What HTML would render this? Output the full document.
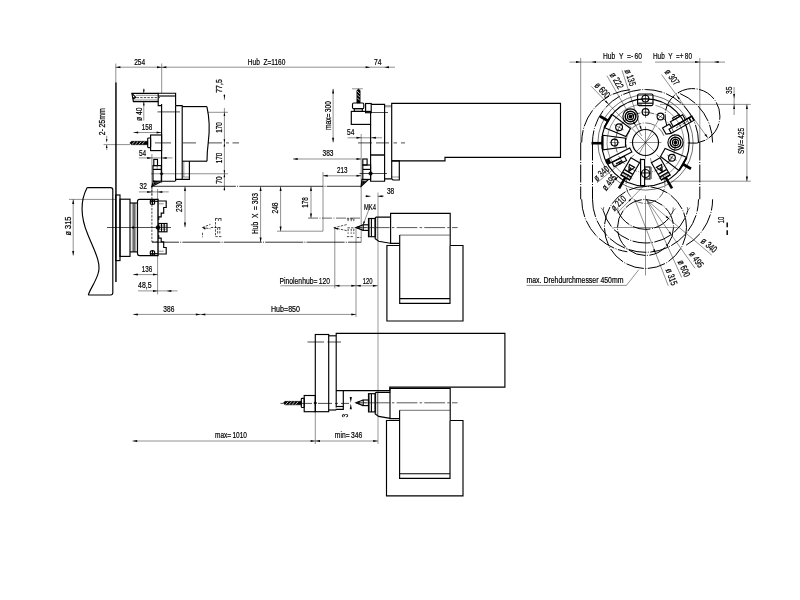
<!DOCTYPE html>
<html><head><meta charset="utf-8"><title>Arbeitsraum</title>
<style>
html,body{margin:0;padding:0;background:#fff;}
body{width:800px;height:600px;overflow:hidden;font-family:"Liberation Sans",sans-serif;}
svg{display:block;filter:grayscale(1);}
path,rect,circle{fill:none;stroke:#000;stroke-width:1;stroke-linecap:butt;stroke-linejoin:miter;}
.k{stroke-width:1.15;}
.kk{stroke-width:1.45;}
.k3{stroke-width:2.6;}
.t{stroke-width:.44;stroke:#000;}
.ct{stroke-width:.7;stroke:#000;}
.t2{stroke-width:.7;stroke:#333;}
.cl{stroke-width:.75;stroke:#222;stroke-dasharray:5.6 2.2 2.5 2.2 20.8 2.2 2.5 2.2 20.8 2.2 2.5 2.2 20.8 2.2 2.5 2.2 40;}
.g{stroke-width:.4;stroke:#000;}
.c{stroke-width:.6;stroke:#000;stroke-dasharray:10 1.5 1 1.5;}
.cc{stroke-width:1;stroke:#000;stroke-dasharray:18 1.5 1 1.5;}
.h{stroke-width:.7;stroke:#000;stroke-dasharray:2.4 1.2;}
.ar{fill:#000;stroke:none;}
.fl{fill:#000;stroke:#000;stroke-width:.5;}
.w{fill:#fff;}
text{font-family:"Liberation Sans",sans-serif;fill:#000;stroke:#000;stroke-width:.22px;}
</style></head><body>
<svg width="800" height="600" viewBox="0 0 800 600">
<rect x="0" y="0" width="800" height="600" style="fill:#fff;stroke:none"/>
<path class="k" d="M87.2 187.6L110.6 187.6Q112.8 187.6 112.8 189.8L112.8 292.8Q112.8 295 110.6 295L88.3 295"/>
<path class="k" d="M87.2 187.6C78 205 82.5 222 88 235C94 250 101 262 98.5 272C96.5 281 90 289 88.3 295"/>
<path class="t" d="M115.8 63.5L115.8 83"/>
<path class="kk" d="M115.95 82.5L115.95 281.9"/>
<rect class="k" x="115.7" y="195" width="4.3" height="65.6"/>
<rect class="k" x="120" y="199.2" width="10" height="57.2"/>
<path class="k" d="M130 203L137.5 203"/>
<path class="k" d="M130 251.9L137.5 251.9"/>
<path class="t" d="M132.3 203L132.3 251.9"/>
<path class="k" d="M134 203L134 251.9"/>
<path class="t" d="M135.7 203L135.7 251.9"/>
<path class="k" d="M139.5 199.4L158.1 199.4L158.1 255.6L139.5 255.6Q137.5 255.6 137.5 253.6L137.5 201.4Q137.5 199.4 139.5 199.4Z"/>
<path class="ct" d="M107 227.5L171 227.5"/>
<circle class="fl" cx="133.2" cy="227.5" r="0.9"/>
<path class="k" d="M158.1 201L166.2 201L166.2 207.5L163.7 207.5L163.7 213.1L161.2 213.1L161.2 216.9L158.7 216.9L158.7 220"/>
<path class="k" d="M150 201.3L158.1 201.3"/>
<rect class="k" x="150.3" y="199.9" width="4.3" height="4.3" rx="1"/>
<path class="k" d="M152.5 199L152.5 205"/>
<path class="t" d="M158.1 203.8L163.7 203.8"/>
<path class="k" d="M158.1 254L166.2 254L166.2 247.5L163.7 247.5L163.7 241.9L161.2 241.9L161.2 238.1L158.7 238.1L158.7 235"/>
<path class="k" d="M150 253.7L158.1 253.7"/>
<rect class="k" x="150.3" y="250.8" width="4.3" height="4.3" rx="1"/>
<path class="k" d="M152.5 256L152.5 250"/>
<path class="t" d="M158.1 251.2L163.7 251.2"/>
<circle class="fl" cx="157.9" cy="227.5" r="1.9"/>
<rect class="k" x="158.7" y="223.5" width="8.3" height="8.3"/>
<path class="k" d="M161.5 223.5L161.5 231.8"/>
<path class="k" d="M164.2 223.5L164.2 231.8"/>
<path class="t" d="M158.7 226L167 226"/>
<path class="t" d="M158.7 229.2L167 229.2"/>
<path class="t" d="M69 199.4L115 199.4"/>
<path class="t" d="M73.2 199.4L73.2 255.6"/>
<path class="ar" d="M73.2 199.4L74.2 204.1L72.2 204.1Z"/>
<path class="ar" d="M73.2 255.6L72.2 250.9L74.2 250.9Z"/>
<text transform="translate(67.5,226) rotate(-90)" text-anchor="middle" font-size="9.6" textLength="19" lengthAdjust="spacingAndGlyphs" dy="0.36em">ø 315</text>
<path d="M151.9 186.3H361.2" style="stroke:#000;stroke-width:.8;stroke-dasharray:84 1.2 1 1.2"/>
<path d="M152 242.2H361.2" style="stroke:#000;stroke-width:.8;stroke-dasharray:38 1.2 1 1.2;stroke-dashoffset:11"/>
<path class="h" d="M151.9 186.3L151.9 241.9"/>
<path class="h" d="M151.9 241.9L158.5 241.9"/>
<path class="t" d="M361.2 186.3L361.2 242.2"/>
<path class="t" d="M161.7 63.5L161.7 93"/>
<path class="k" d="M158.2 93.4L131.9 93.4L133.4 101.6L158.2 101.6"/>
<path class="k" d="M131.9 93.4L135.8 97.3L133 99"/>
<path class="t" d="M135.8 95.3L158.2 95.3"/>
<path class="t" d="M133.6 100L158.2 100"/>
<path class="h" d="M133 97.6L160 97.6"/>
<path class="k" d="M161.6 105.6L158.2 105.6L158.2 93.2L175.6 93.2L175.6 105.6"/>
<path class="k" d="M158.2 96L175.6 96"/>
<path class="k" d="M161.6 104L161.6 181.2L175.2 181.2"/>
<path class="k" d="M175.6 105.6L175.6 181.2"/>
<path class="k" d="M175.6 105.6L182.2 105.6L182.2 179.4L175.6 179.4"/>
<path class="k" d="M182.2 106.6L206.9 106.6"/>
<path class="k" d="M206.9 106.6C209.5 118 209.8 130 208.3 142C207.3 150 207 156 207 161.2"/>
<path class="k" d="M182.2 161.2L207 161.2"/>
<path class="k" d="M182.2 179.4L189.4 179.4L189.4 161.2"/>
<path class="t" d="M183.8 161.2L183.8 177"/>
<path class="t" d="M182.2 177L189.4 177"/>
<path class="ct" d="M157.5 111.9L180 111.9"/>
<path class="ct" d="M155 142.9L171 142.9"/>
<path class="ct" d="M183 142.9L196 142.9"/>
<path class="ct" d="M208 142.9L222 142.9"/>
<path class="ct" d="M226 142.9L229 142.9"/>
<path class="ct" d="M232.5 142.9L239 142.9"/>
<rect class="k" x="150.6" y="135" width="11" height="15.6"/>
<rect class="k" x="147.7" y="138" width="2.9" height="9.6" rx="0.8"/>
<path class="fl" d="M129.8 143L131.4 141.3L147.6 141.3L147.6 144.7L131.4 144.7Z"/>
<path d="M132 144.3L134.72 141.7" style="stroke:#fff;stroke-width:.75"/>
<path d="M135.3 144.3L138.02 141.7" style="stroke:#fff;stroke-width:.75"/>
<path d="M138.6 144.3L141.32 141.7" style="stroke:#fff;stroke-width:.75"/>
<path d="M141.9 144.3L144.62 141.7" style="stroke:#fff;stroke-width:.75"/>
<path class="t" d="M103.5 144.6L130 144.6"/>
<rect class="k" x="153.8" y="159.4" width="3.7" height="6.2"/>
<rect class="k" x="153" y="165.6" width="8.3" height="15.6"/>
<path class="k" d="M153 169.4L161.3 169.4"/>
<path class="t" d="M157.2 165.6L157.2 169.4"/>
<path class="fl" d="M161.6 172.2L163.1 173.75L161.6 175.3L160.1 173.75Z"/>
<path class="t" d="M151 173.75L228 173.75"/>
<path class="k" d="M153.4 181.2L151.9 186.4L160 182.2Z"/>
<path class="fl" d="M154.2 182.3L153.2 185L157.4 182.8Z"/>
<path class="t" d="M161.6 181.2L161.6 183.2"/>
<path class="t" d="M151.9 154L151.9 195"/>
<path class="t" d="M157.6 189L157.6 294.4"/>
<path class="t" d="M115.7 67.2L161.7 67.2"/>
<path class="ar" d="M115.7 67.2L120.4 66.2L120.4 68.2Z"/>
<path class="ar" d="M161.7 67.2L157 68.2L157 66.2Z"/>
<text transform="translate(139.7,61.3) rotate(0)" text-anchor="middle" font-size="9.6" textLength="11" lengthAdjust="spacingAndGlyphs" dy="0.36em">254</text>
<path class="t" d="M161.7 67.2L395 67.2"/>
<path class="ar" d="M161.7 67.2L166.4 66.2L166.4 68.2Z"/>
<path class="ar" d="M370.3 67.2L365.6 68.2L365.6 66.2Z"/>
<path class="ar" d="M384.3 67.2L389 66.2L389 68.2Z"/>
<text transform="translate(266.6,61.3) rotate(0)" text-anchor="middle" font-size="9.6" textLength="37.5" lengthAdjust="spacingAndGlyphs" dy="0.36em">Hub  Z=1160</text>
<text transform="translate(377.8,61.3) rotate(0)" text-anchor="middle" font-size="9.6" textLength="7.5" lengthAdjust="spacingAndGlyphs" dy="0.36em">74</text>
<path class="t" d="M143.8 88.5L143.8 93.4"/>
<path class="ar" d="M143.8 93.4L143 89.4L144.6 89.4Z"/>
<path class="t" d="M143.8 101.6L143.8 120.5"/>
<path class="ar" d="M143.8 101.6L144.6 105.6L143 105.6Z"/>
<text transform="translate(138.3,114.3) rotate(-90)" text-anchor="middle" font-size="9.6" textLength="13.5" lengthAdjust="spacingAndGlyphs" dy="0.36em">ø 40</text>
<path class="t" d="M133.5 132.5L161.3 132.5"/>
<path class="ar" d="M133.5 132.5L138.2 131.5L138.2 133.5Z"/>
<path class="ar" d="M161.3 132.5L156.6 133.5L156.6 131.5Z"/>
<text transform="translate(147,126.2) rotate(0)" text-anchor="middle" font-size="9.6" textLength="10.5" lengthAdjust="spacingAndGlyphs" dy="0.36em">158</text>
<path class="t" d="M138.8 157.9L172.5 157.9"/>
<path class="ar" d="M151.9 157.9L147.2 158.9L147.2 156.9Z"/>
<path class="ar" d="M161.9 157.9L166.6 156.9L166.6 158.9Z"/>
<text transform="translate(142.6,152.4) rotate(0)" text-anchor="middle" font-size="9.6" textLength="7.3" lengthAdjust="spacingAndGlyphs" dy="0.36em">54</text>
<path class="t" d="M138.8 191.9L168.8 191.9"/>
<path class="ar" d="M151.9 191.9L147.2 192.9L147.2 190.9Z"/>
<path class="ar" d="M157.6 191.9L162.3 190.9L162.3 192.9Z"/>
<text transform="translate(143.2,185.8) rotate(0)" text-anchor="middle" font-size="9.6" textLength="7.3" lengthAdjust="spacingAndGlyphs" dy="0.36em">32</text>
<path class="t" d="M106.7 135.8L106.7 140.8"/>
<path class="t" d="M106.7 145L106.7 150"/>
<path class="ar" d="M106.7 142.4L105.9 139.2L107.5 139.2Z"/>
<path class="ar" d="M106.7 144.8L107.5 148L105.9 148Z"/>
<text transform="translate(101.2,121.7) rotate(-90)" text-anchor="middle" font-size="9.6" textLength="27" lengthAdjust="spacingAndGlyphs" dy="0.36em">2- 25mm</text>
<path class="t" d="M207.5 112.3L228 112.3"/>
<path class="t" d="M224.4 94L224.4 100"/>
<path class="ar" d="M224.4 99L223.6 95L225.2 95Z"/>
<path class="t" d="M224.4 108L224.4 186.5"/>
<path class="ar" d="M224.4 112.3L225.2 115.9L223.6 115.9Z"/>
<path class="ar" d="M224.4 142.9L225.2 146.5L223.6 146.5Z"/>
<path class="ar" d="M224.4 173.75L225.2 177.35L223.6 177.35Z"/>
<path class="ar" d="M224.4 142.9L223.6 139.3L225.2 139.3Z"/>
<path class="ar" d="M224.4 173.75L223.6 170.15L225.2 170.15Z"/>
<path class="ar" d="M224.4 186.4L225.2 190L223.6 190Z"/>
<path class="t" d="M224.4 186.4L224.4 191"/>
<text transform="translate(219,86) rotate(-90)" text-anchor="middle" font-size="9.6" textLength="13.5" lengthAdjust="spacingAndGlyphs" dy="0.36em">77,5</text>
<text transform="translate(219,127.5) rotate(-90)" text-anchor="middle" font-size="9.6" textLength="10.5" lengthAdjust="spacingAndGlyphs" dy="0.36em">170</text>
<text transform="translate(219,158) rotate(-90)" text-anchor="middle" font-size="9.6" textLength="10.5" lengthAdjust="spacingAndGlyphs" dy="0.36em">170</text>
<text transform="translate(219,180) rotate(-90)" text-anchor="middle" font-size="9.6" textLength="7.3" lengthAdjust="spacingAndGlyphs" dy="0.36em">70</text>
<path class="t" d="M185 186.4L185 227.2"/>
<path class="ar" d="M185 186.4L186 191.1L184 191.1Z"/>
<path class="ar" d="M185 227.2L184 222.5L186 222.5Z"/>
<text transform="translate(179,206.5) rotate(-90)" text-anchor="middle" font-size="9.6" textLength="11" lengthAdjust="spacingAndGlyphs" dy="0.36em">230</text>
<path class="t" d="M133.1 274.6L157.7 274.6"/>
<path class="ar" d="M133.1 274.6L137.8 273.6L137.8 275.6Z"/>
<path class="ar" d="M157.7 274.6L153 275.6L153 273.6Z"/>
<text transform="translate(146.9,268.8) rotate(0)" text-anchor="middle" font-size="9.6" textLength="10.5" lengthAdjust="spacingAndGlyphs" dy="0.36em">136</text>
<path class="t" d="M138 290.9L177.5 290.9"/>
<path class="ar" d="M157.7 290.9L153 291.9L153 289.9Z"/>
<path class="ar" d="M166.6 290.9L171.3 289.9L171.3 291.9Z"/>
<text transform="translate(144.8,284.8) rotate(0)" text-anchor="middle" font-size="9.6" textLength="13.5" lengthAdjust="spacingAndGlyphs" dy="0.36em">48,5</text>
<path class="t" d="M133.1 314.4L356 314.4"/>
<path class="ar" d="M133.1 314.4L137.8 313.4L137.8 315.4Z"/>
<path class="ar" d="M200.6 314.4L195.9 315.4L195.9 313.4Z"/>
<path class="ar" d="M200.6 314.4L205.3 313.4L205.3 315.4Z"/>
<path class="ar" d="M356 314.4L351.3 315.4L351.3 313.4Z"/>
<text transform="translate(168.8,308.5) rotate(0)" text-anchor="middle" font-size="9.6" textLength="11" lengthAdjust="spacingAndGlyphs" dy="0.36em">386</text>
<text transform="translate(285.5,308.3) rotate(0)" text-anchor="middle" font-size="9.6" textLength="29" lengthAdjust="spacingAndGlyphs" dy="0.36em">Hub=850</text>
<path class="t" d="M280.4 285.8L377.6 285.8"/>
<path class="ar" d="M334.8 285.8L339.5 284.8L339.5 286.8Z"/>
<path class="ar" d="M356 285.8L351.3 286.8L351.3 284.8Z"/>
<path class="ar" d="M356 285.8L360.7 284.8L360.7 286.8Z"/>
<path class="ar" d="M377.6 285.8L372.9 286.8L372.9 284.8Z"/>
<text transform="translate(304.8,280.3) rotate(0)" text-anchor="middle" font-size="9.6" textLength="50.5" lengthAdjust="spacingAndGlyphs" dy="0.36em">Pinolenhub= 120</text>
<text transform="translate(367.7,280.3) rotate(0)" text-anchor="middle" font-size="9.6" textLength="9.8" lengthAdjust="spacingAndGlyphs" dy="0.36em">120</text>
<path class="t" d="M334.8 227.8L334.8 288.5"/>
<path class="t" d="M356 227.8L356 317"/>
<path class="t" d="M260.6 186.4L260.6 242.2"/>
<path class="ar" d="M260.6 186.4L261.6 191.1L259.6 191.1Z"/>
<path class="ar" d="M260.6 242.2L259.6 237.5L261.6 237.5Z"/>
<text transform="translate(255,213.5) rotate(-90)" text-anchor="middle" font-size="9.6" textLength="41" lengthAdjust="spacingAndGlyphs" dy="0.36em">Hub  X  = 303</text>
<path class="t" d="M280.6 186.4L280.6 231.2"/>
<path class="ar" d="M280.6 186.4L281.6 191.1L279.6 191.1Z"/>
<path class="ar" d="M280.6 231.2L279.6 226.5L281.6 226.5Z"/>
<text transform="translate(274.6,208) rotate(-90)" text-anchor="middle" font-size="9.6" textLength="11" lengthAdjust="spacingAndGlyphs" dy="0.36em">248</text>
<path class="t" d="M277 231.2L323 231.2"/>
<path class="t" d="M311 186.4L311 218.1"/>
<path class="ar" d="M311 186.4L312 191.1L310 191.1Z"/>
<path class="ar" d="M311 218.1L310 213.4L312 213.4Z"/>
<text transform="translate(305,202.4) rotate(-90)" text-anchor="middle" font-size="9.6" textLength="10.5" lengthAdjust="spacingAndGlyphs" dy="0.36em">178</text>
<path class="c" d="M308 218.1L361 218.1"/>
<path class="t" d="M323 172L323 231.2"/>
<path class="t" d="M293 159L361.2 159"/>
<path class="ar" d="M293 159L297.7 158L297.7 160Z"/>
<path class="ar" d="M361.2 159L356.5 160L356.5 158Z"/>
<text transform="translate(328,153) rotate(0)" text-anchor="middle" font-size="9.6" textLength="11" lengthAdjust="spacingAndGlyphs" dy="0.36em">383</text>
<path class="t" d="M323 175.8L361.2 175.8"/>
<path class="ar" d="M323 175.8L327.7 174.8L327.7 176.8Z"/>
<path class="ar" d="M361.2 175.8L356.5 176.8L356.5 174.8Z"/>
<text transform="translate(342.3,169.8) rotate(0)" text-anchor="middle" font-size="9.6" textLength="10.5" lengthAdjust="spacingAndGlyphs" dy="0.36em">213</text>
<path class="h" d="M202.5 227.5L210.5 224.3M202.5 227.5L210.5 228.8M202.5 232.8V237.3"/>
<path class="h" d="M215.3 218.5H221.5M215.5 218.5V236.6H221.5M217.6 227.5V234.3M219.8 227.5V234.3M210.8 227.5H220.8M218.4 218.5V221.7M221 218.5V221.7"/>
<path class="ar" d="M202.3 227.5L205.83 227.85L205.08 229.7Z"/>
<path class="h" d="M333.8 227.8L347.5 224.4M333.8 227.8L347.5 230.8"/>
<path class="h" d="M346.9 218.8H354.4M348.1 218.8V222M351.2 218.8V222M353.8 218.8V222M347.5 227.8H355M348.1 228.8V233.8M351.2 228.8V233.8M353.8 228.8V233.8M346.9 236.6H353.8M356.9 237.5H361.2"/>
<path class="ar" d="M333.6 227.8L338.21 227.92L337.72 229.86Z"/>
<path class="t" d="M352 88.8L362.8 88.8"/>
<path class="fl" d="M358.5 88.9L356.8 90.5L356.8 103L360.2 103L360.2 90.5Z"/>
<path d="M357.2 91.1L359.8 93.82" style="stroke:#fff;stroke-width:.75"/>
<path d="M357.2 94.4L359.8 97.12" style="stroke:#fff;stroke-width:.75"/>
<path d="M357.2 97.7L359.8 100.42" style="stroke:#fff;stroke-width:.75"/>
<rect class="k" x="352.5" y="103" width="11.3" height="5.6" rx="1.2"/>
<rect class="k" x="354.3" y="108.6" width="8" height="2.8"/>
<rect class="k" x="351.3" y="111.4" width="19.3" height="13"/>
<rect class="k" x="365.6" y="103.5" width="5.6" height="9.2"/>
<path class="k" d="M370.6 124.4L370.6 181.2L384.6 181.2L384.6 104.4L371.2 104.4"/>
<path class="kk" d="M370.6 155L384.6 155"/>
<path class="ct" d="M370.6 112.5L388 112.5"/>
<path class="t" d="M384.6 105.7L391.7 105.7"/>
<path class="t" d="M384.6 106.8L391.7 106.8"/>
<path class="k" d="M391.7 178.8L391.7 103.4L560.5 103.4L560.5 157.4L445 157.4L445 160.9L391.7 160.9"/>
<path class="k" d="M391.7 160.8L399.3 160.8L399.3 180L393 180L391.7 178.8L384.6 178.8"/>
<path class="t" d="M391.7 177L399.3 177"/>
<path class="ct" d="M358 142.9H372M376 142.9H389M393.5 142.9H397M401 142.9H405"/>
<rect class="k" x="362.8" y="159" width="4.3" height="6"/>
<rect class="k" x="362.8" y="165" width="7.8" height="14.4"/>
<path class="k" d="M362.8 169.4L370.6 169.4"/>
<circle class="fl" cx="370.6" cy="173.5" r="1.8"/>
<path class="ct" d="M359.5 173.5L387 173.5"/>
<path class="k" d="M362 179.4L361.2 186.3L368 180Z"/>
<path class="fl" d="M362.6 181L362 185L365.8 181.4Z"/>
<path class="t" d="M361.2 134L361.2 186.3"/>
<path class="t" d="M333.1 88.8L333.1 142.5"/>
<path class="ar" d="M333.1 88.8L334.1 93.5L332.1 93.5Z"/>
<path class="ar" d="M333.1 142.5L332.1 137.8L334.1 137.8Z"/>
<text transform="translate(327.3,115.5) rotate(-90)" text-anchor="middle" font-size="9.6" textLength="29" lengthAdjust="spacingAndGlyphs" dy="0.36em">max= 300</text>
<path class="t" d="M347.5 137.8L382 137.8"/>
<path class="ar" d="M361.2 137.8L356.5 138.8L356.5 136.8Z"/>
<path class="ar" d="M371.2 137.8L375.9 136.8L375.9 138.8Z"/>
<text transform="translate(350.7,131.3) rotate(0)" text-anchor="middle" font-size="9.6" textLength="7.3" lengthAdjust="spacingAndGlyphs" dy="0.36em">54</text>
<path class="t" d="M365.2 196.2L370.6 196.2"/>
<path class="ar" d="M370.6 196.2L365.9 197.2L365.9 195.2Z"/>
<path class="t" d="M377.8 196.2L384 196.2"/>
<path class="ar" d="M377.8 196.2L382.5 195.2L382.5 197.2Z"/>
<text transform="translate(390.6,190.2) rotate(0)" text-anchor="middle" font-size="9.6" textLength="7.3" lengthAdjust="spacingAndGlyphs" dy="0.36em">38</text>
<path class="g" d="M378 192.5L378 444"/>
<text transform="translate(370,206.2) rotate(0)" text-anchor="middle" font-size="9.6" textLength="12" lengthAdjust="spacingAndGlyphs" dy="0.36em">MK4</text>
<path class="t" d="M368.9 209.4L363.2 224.6"/>
<path class="ar" d="M363 225.2L363.56 221.14L365.24 221.77Z"/>
<path class="k" d="M363.2 224.8L356 227.6L363.2 230.4"/>
<path class="fl" d="M356 227.6L359.4 226.3L359.4 228.9Z"/>
<rect class="k" x="363.2" y="224.8" width="5.3" height="5.6"/>
<path class="t" d="M359.4 227.6L368.5 227.6"/>
<rect class="k" x="368.5" y="218.5" width="6.7" height="18.2"/>
<path class="k" d="M371.4 218.5L371.4 236.7"/>
<path class="t2" d="M369.4 218.5L369.4 236.7"/>
<path class="k" d="M390.2 217.1L376.2 217.1L375.2 218.1L375.2 238.8L378.7 241.2L390.2 243.2"/>
<path class="t2" d="M377.3 217.4L377.3 240"/>
<path class="k" d="M399.7 243.4L390.6 243.4L390.6 213.4L450.2 213.4L450.2 245.5"/>
<path class="t2" d="M399.7 235.1L450 235.1"/>
<path class="k" d="M399.7 235.1L399.7 303.3L450 303.3L450 245.5"/>
<path class="k" d="M399.7 298.6L450 298.6"/>
<path class="k" d="M399.7 245.5L386.9 245.5L386.9 321L463 321L463 245.5L450.2 245.5"/>
<path class="cl" d="M457.6 227.6H357"/>
<rect class="k" x="315.3" y="334.5" width="13.4" height="77.2"/>
<path class="k" d="M328.7 335.8L336.2 335.8"/>
<path class="k" d="M328.7 410L336.2 410"/>
<path class="k" d="M336.2 407.5L336.2 333.4L504.9 333.4L504.9 387.1L389.8 387.1L389.8 390.6L336.2 390.6"/>
<path class="k" d="M336.2 390.5L343.3 390.5L343.3 409.3L336.2 409.3L336.2 410"/>
<path class="k" d="M336.2 406.5L343.3 406.5"/>
<path class="ct" d="M307.5 342H324M327.5 342H341"/>
<rect class="k" x="304.2" y="395.5" width="11.1" height="16.2"/>
<rect class="k" x="301.3" y="398.3" width="2.9" height="9.2" rx="0.8"/>
<path class="fl" d="M283.3 403.1L284.9 401.35L301.3 401.35L301.3 404.85L284.9 404.85Z"/>
<path d="M285.5 404.45L288.3 401.75" style="stroke:#fff;stroke-width:.75"/>
<path d="M288.8 404.45L291.6 401.75" style="stroke:#fff;stroke-width:.75"/>
<path d="M292.1 404.45L294.9 401.75" style="stroke:#fff;stroke-width:.75"/>
<path d="M295.4 404.45L298.2 401.75" style="stroke:#fff;stroke-width:.75"/>
<path class="fl" d="M315.3 401.5L316.8 403L315.3 404.5L313.8 403Z"/>
<path class="ct" d="M280.5 403.4H283M302 403.4H312M318 403.4H332M335 403.4H338M341 403.4H349"/>
<path class="t" d="M315.3 411.7L315.3 444"/>
<path class="ar" d="M350.8 402.8L349.7 397L351.9 397Z"/>
<path class="ar" d="M350.8 403.4L351.9 409.2L349.7 409.2Z"/>
<text transform="translate(344.6,415.6) rotate(-90)" text-anchor="middle" font-size="9.6" textLength="3.6" lengthAdjust="spacingAndGlyphs" dy="0.36em">3</text>
<path class="k" d="M363.2 400L356 402.8L363.2 405.6"/>
<path class="fl" d="M356 402.8L359.4 401.5L359.4 404.1Z"/>
<rect class="k" x="363.2" y="400" width="5.3" height="5.6"/>
<path class="t" d="M359.4 402.8L368.5 402.8"/>
<rect class="k" x="368.5" y="393.7" width="6.7" height="18.2"/>
<path class="k" d="M371.4 393.7L371.4 411.9"/>
<path class="t2" d="M369.4 393.7L369.4 411.9"/>
<path class="k" d="M390.2 392.3L376.2 392.3L375.2 393.3L375.2 414L378.7 416.4L390.2 418.4"/>
<path class="t2" d="M377.3 392.6L377.3 415.2"/>
<path class="k" d="M399.6 418.6L390 418.6L390 388.4L450.2 388.4L450.2 420.5"/>
<path class="t2" d="M399.6 410.3L450 410.3"/>
<path class="k" d="M399.6 410.3L399.6 478.4L450 478.4L450 420.5"/>
<path class="k" d="M399.6 473.7L450 473.7"/>
<path class="k" d="M399.6 420.5L386.5 420.5L386.5 495.9L463 495.9L463 420.5L450.2 420.5"/>
<path class="cl" d="M457.6 402.8H357"/>
<path class="t" d="M132.5 441L377.9 441"/>
<path class="ar" d="M132.5 441L137.2 440L137.2 442Z"/>
<path class="ar" d="M315.3 441L310.6 442L310.6 440Z"/>
<path class="ar" d="M315.3 441L320 440L320 442Z"/>
<path class="ar" d="M377.9 441L373.2 442L373.2 440Z"/>
<text transform="translate(231,434.3) rotate(0)" text-anchor="middle" font-size="9.6" textLength="32" lengthAdjust="spacingAndGlyphs" dy="0.36em">max= 1010</text>
<text transform="translate(348.5,434.3) rotate(0)" text-anchor="middle" font-size="9.6" textLength="27.5" lengthAdjust="spacingAndGlyphs" dy="0.36em">min= 346</text>
<circle class="k" cx="645.5" cy="142.5" r="13"/>
<path class="t" d="M629.5 142.5L661.5 142.5"/>
<path class="t" d="M645.5 126.5L645.5 158.5"/>
<path class="t" d="M654.69 133.31L636.31 151.69"/>
<path class="t" d="M652 131.24L639 153.76"/>
<path class="t" d="M636.31 133.31L654.69 151.69"/>
<circle class="k" cx="645.5" cy="142.5" r="43.7"/>
<circle class="t2" cx="645.5" cy="142.5" r="47.6"/>
<path class="t" d="M642.14 104.15A38.5 38.5 0 0 0 632.33 178.68"/>
<path class="t" d="M658.67 178.68A38.5 38.5 0 0 0 655.46 105.31"/>
<circle class="c" cx="645.5" cy="142.5" r="30"/>
<path class="c" d="M663.92 135.8A19.6 19.6 0 0 0 627.08 149.2"/>
<path class="cc" d="M698.5 142.5A53 53 0 0 0 592.5 142.5"/>
<path class="cc" d="M630.08 89.7A53 53 0 0 0 581.7 142.5"/>
<path class="cc" d="M712.6 142.5A53 53 0 0 0 677.73 92.7"/>
<path class="t" d="M580.7 58L580.7 142.5"/>
<path class="cc" d="M580.7 142.5L580.7 199.3"/>
<path class="cc" d="M592.5 142.5L592.5 199.3"/>
<path class="t" d="M699.8 58L699.8 142.5"/>
<path class="cc" d="M699.8 142.5L699.8 199.3"/>
<path class="cc" d="M581.7 199.3A53 53 0 0 0 627.32 251.78"/>
<path class="cc" d="M592.5 199.3A53 53 0 0 0 698.5 199.3"/>
<path class="cc" d="M686.1 245.2A53 53 0 0 0 712.6 199.3"/>
<path class="cc" d="M603.29 210.61A43.7 43.7 0 0 0 687.71 210.61"/>
<path class="cc" d="M617.88 211.02A30 30 0 0 0 673.12 211.02"/>
<circle class="cc" cx="645.5" cy="227.5" r="28"/>
<circle class="cc" cx="645.5" cy="227.5" r="41"/>
<path class="t" d="M613.5 227.5L677.5 227.5"/>
<path class="t" d="M645.5 195.3L645.5 275.5"/>
<path class="c" d="M628.61 174.25A19.5 19.5 0 1 0 662.39 174.25"/>
<path class="cc" d="M687.74 142.98A27.4 27.4 0 1 0 666.75 125.37"/>
<circle class="k" cx="675.5" cy="142.5" r="7.6"/>
<circle class="kk" cx="675.5" cy="142.5" r="5.3"/>
<circle class="k" cx="675.5" cy="142.5" r="3.1"/>
<circle class="fl" cx="675.5" cy="142.5" r="1.7"/>
<circle class="k" cx="630.5" cy="116.52" r="7.6"/>
<circle class="kk" cx="630.5" cy="116.52" r="5.3"/>
<circle class="k" cx="630.5" cy="116.52" r="3.1"/>
<circle class="fl" cx="630.5" cy="116.52" r="1.7"/>
<circle class="k" cx="660.5" cy="116.52" r="3.4"/>
<path class="t" d="M657.5 119.52L663.5 113.52"/>
<path class="t" d="M652 131.24L659 119.12"/>
<rect class="k" x="637.6" y="94" width="15.4" height="11.6" rx="1.5"/>
<path class="k" d="M637.6 103.2L653 103.2"/>
<circle class="k" cx="645.4" cy="98.6" r="3.4"/>
<path class="t" d="M640.9 98.6L649.9 98.6"/>
<path class="t" d="M645.4 94.1L645.4 103.1"/>
<circle class="k" cx="645.6" cy="112" r="3.4"/>
<path class="t" d="M641.1 112L650.1 112"/>
<path class="t" d="M645.6 107.5L645.6 116.5"/>
<path class="t" d="M645.5 94L645.5 118"/>
<path class="k" d="M630.48 128.52L612.23 114.52L604.63 127.68L625.88 136.48Z"/>
<circle class="k" cx="619.09" cy="127.25" r="3.4"/>
<path class="t" d="M623.85 130L614.32 124.5"/>
<path class="t" d="M621.59 122.92L616.59 131.58"/>
<path class="kk" d="M611.9 114.1L604.1 127.6"/>
<path class="k3" d="M607.83 120.75L600.03 116.25"/>
<path class="k" d="M660.52 156.48L678.77 170.48L686.37 157.32L665.12 148.52Z"/>
<circle class="k" cx="671.91" cy="157.75" r="3.4"/>
<path class="t" d="M667.15 155L676.68 160.5"/>
<path class="t" d="M669.41 162.08L674.41 153.42"/>
<path class="kk" d="M679.1 170.9L686.9 157.4"/>
<path class="k3" d="M683.17 164.25L690.97 168.75"/>
<path class="k" d="M603 135.3L625.5 138.3L625.5 146.8L603 149.8Z"/>
<circle class="k" cx="614.5" cy="142.5" r="3.4"/>
<path class="t" d="M609.5 142.5L619.5 142.5"/>
<path class="t" d="M614.5 137.5L614.5 147.5"/>
<path class="kk" d="M602.3 136L602.3 149"/>
<path class="k3" d="M591.5 143.2L602 143.2"/>
<path class="k" d="M671.38 133.33L694.25 120.13L691.85 115.97L668.98 129.17Z"/>
<path class="k" d="M673.31 126.67L685.44 119.67L682.59 114.74L670.46 121.74Z"/>
<path class="k" d="M673.49 119.99L679.99 116.24L678.99 114.5L672.49 118.25Z"/>
<path class="k" d="M671.58 127.67L669.48 124.04"/>
<path class="k" d="M671.38 133.33L666.05 134.1L662.55 128.04L669.48 124.04"/>
<path class="kk" d="M691.3 121.83L688.9 117.67"/>
<path class="h" d="M676.24 127.75L687.5 121.25"/>
<path class="kk" d="M676.88 124.85L691.17 116.6"/>
<path class="k" d="M629.75 147.94L606.14 159.97L608.23 164.07L631.84 152.04Z"/>
<path class="k" d="M624.41 156.17L611.93 162.52L614.11 166.8L626.58 160.44Z"/>
<path class="kk" d="M622.2 160.66L615.97 163.83"/>
<path class="k3" d="M607.92 159.06L610.01 163.16"/>
<path class="k3" d="M608.97 161.11L605.85 162.7"/>
<path class="k" d="M630.92 157.75L620.92 175.07L629.58 180.07L639.58 162.75Z"/>
<path class="kk" d="M624.17 169.44L632.83 174.44"/>
<path class="kk" d="M622.67 172.04L631.33 177.04"/>
<path class="kk" d="M620.59 174.65L630.11 180.15"/>
<path class="k" d="M634.6 167.38L628.75 171.51L629.4 164.38Z"/>
<path class="kk" d="M631 167.61L629.5 170.21"/>
<path class="k3" d="M625.25 177.57L619 188.4"/>
<path class="t" d="M630.92 157.75L634.47 154.61"/>
<path class="t" d="M639.58 162.75L640.53 158.11"/>
<path class="k" d="M651.42 162.75L661.42 180.07L670.08 175.07L660.08 157.75Z"/>
<path class="kk" d="M658.17 174.44L666.83 169.44"/>
<path class="kk" d="M659.67 177.04L668.33 172.04"/>
<path class="kk" d="M660.89 180.15L670.41 174.65"/>
<path class="k" d="M656.4 167.38L662.25 171.51L661.6 164.38Z"/>
<path class="kk" d="M660 167.61L661.5 170.21"/>
<path class="k3" d="M665.75 177.57L672 188.4"/>
<path class="t" d="M651.42 162.75L650.47 158.11"/>
<path class="t" d="M660.08 157.75L656.53 154.61"/>
<rect class="k" x="640.6" y="159.5" width="4" height="26.1"/>
<rect class="k" x="644.6" y="167" width="5.4" height="12"/>
<circle class="k" cx="645.5" cy="173.5" r="4"/>
<path class="t" d="M640 173.5L651 173.5"/>
<path class="t" d="M645.5 168L645.5 179"/>
<path class="t" d="M651.5 167L651.5 179"/>
<path class="t" d="M569.4 62.1L642 62.1"/>
<path class="ar" d="M580.7 62.1L576 63.1L576 61.1Z"/>
<path class="ar" d="M591.3 62.1L596 61.1L596 63.1Z"/>
<text transform="translate(622.5,55.6) rotate(0)" text-anchor="middle" font-size="9.6" textLength="39" lengthAdjust="spacingAndGlyphs" dy="0.36em">Hub  Y  =- 60</text>
<path class="t" d="M655 62.1L725 62.1"/>
<path class="ar" d="M699.8 62.1L695.1 63.1L695.1 61.1Z"/>
<path class="ar" d="M713.9 62.1L718.6 61.1L718.6 63.1Z"/>
<text transform="translate(672.5,55.6) rotate(0)" text-anchor="middle" font-size="9.6" textLength="39" lengthAdjust="spacingAndGlyphs" dy="0.36em">Hub  Y  =+ 80</text>
<path class="t" d="M591.32 86.39L636.47 133.15"/>
<path class="ar" d="M608.68 104.37L604.91 101.76L606.2 100.51Z"/>
<path class="t" d="M607 75.82L641.7 135.92"/>
<path class="ar" d="M635.7 125.53L632.92 122.51L634.48 121.61Z"/>
<path class="t" d="M622.01 70.22L641.48 130.14"/>
<path class="ar" d="M641.48 130.14L639.39 126.61L641.1 126.05Z"/>
<text transform="translate(602.5,90) rotate(46)" text-anchor="middle" font-size="9.6" textLength="17.5" lengthAdjust="spacingAndGlyphs" dy="0.36em">ø 600</text>
<text transform="translate(617,80.5) rotate(60)" text-anchor="middle" font-size="9.6" textLength="17.5" lengthAdjust="spacingAndGlyphs" dy="0.36em">ø 222</text>
<text transform="translate(630.5,77.5) rotate(72)" text-anchor="middle" font-size="9.6" textLength="17" lengthAdjust="spacingAndGlyphs" dy="0.36em">ø 135</text>
<path class="t" d="M661.5 74.5L707.5 137.5"/>
<path class="ar" d="M676.6 95.2L679.98 98.31L678.52 99.37Z"/>
<path class="ar" d="M707.9 138L704.52 134.89L705.98 133.83Z"/>
<text transform="translate(672.3,77) rotate(54)" text-anchor="middle" font-size="9.6" textLength="17.5" lengthAdjust="spacingAndGlyphs" dy="0.36em">ø 307</text>
<path class="t" d="M660 104.4L750.8 104.4"/>
<path class="t" d="M670.5 181.2L750.8 181.2"/>
<path class="t" d="M734.1 87L734.1 115"/>
<path class="ar" d="M734.1 98.6L733.2 94.1L735 94.1Z"/>
<path class="ar" d="M734.1 104.4L735 108.9L733.2 108.9Z"/>
<text transform="translate(728.2,90.3) rotate(-90)" text-anchor="middle" font-size="9.6" textLength="7.3" lengthAdjust="spacingAndGlyphs" dy="0.36em">35</text>
<path class="t" d="M746.9 104.4L746.9 181.2"/>
<path class="ar" d="M746.9 104.4L747.9 109.1L745.9 109.1Z"/>
<path class="ar" d="M746.9 181.2L745.9 176.5L747.9 176.5Z"/>
<text transform="translate(741,141) rotate(-90)" text-anchor="middle" font-size="9.6" textLength="26" lengthAdjust="spacingAndGlyphs" dy="0.36em">SW= 425</text>
<path class="t" d="M597.03 182.74L622.42 161.66"/>
<path class="ar" d="M622.42 161.66L619.92 164.91L618.77 163.53Z"/>
<path class="t" d="M606.48 190.68L618 176.46"/>
<path class="ar" d="M618 176.46L616.18 180.14L614.78 179Z"/>
<text transform="translate(601.2,173.2) rotate(-42)" text-anchor="middle" font-size="9.6" textLength="17.5" lengthAdjust="spacingAndGlyphs" dy="0.36em">ø 340</text>
<text transform="translate(609,182.2) rotate(-50)" text-anchor="middle" font-size="9.6" textLength="17.5" lengthAdjust="spacingAndGlyphs" dy="0.36em">ø 495</text>
<path class="t" d="M616.92 213.39L645.5 184"/>
<path class="ar" d="M631.91 197.98L629.76 201.47L628.47 200.22Z"/>
<text transform="translate(618.3,203) rotate(-44)" text-anchor="middle" font-size="9.6" textLength="17" lengthAdjust="spacingAndGlyphs" dy="0.36em">ø 210</text>
<path class="t" d="M646.7 200L681.7 277.5"/>
<path class="ar" d="M668.51 248.3L665.84 244.57L667.48 243.83Z"/>
<text transform="translate(684.2,268.3) rotate(65.7)" text-anchor="middle" font-size="9.6" textLength="17.5" lengthAdjust="spacingAndGlyphs" dy="0.36em">ø 600</text>
<path class="t" d="M646.7 200L695 268.3"/>
<path class="ar" d="M671.95 235.67L668.62 232.51L670.09 231.47Z"/>
<text transform="translate(696.7,259.2) rotate(54.7)" text-anchor="middle" font-size="9.6" textLength="17.5" lengthAdjust="spacingAndGlyphs" dy="0.36em">ø 495</text>
<path class="t" d="M646.7 200L711.7 255"/>
<path class="ar" d="M669.61 219.36L665.6 217.15L666.76 215.77Z"/>
<text transform="translate(709.2,245) rotate(40.2)" text-anchor="middle" font-size="9.6" textLength="17.5" lengthAdjust="spacingAndGlyphs" dy="0.36em">ø 340</text>
<path class="t" d="M634.8 199.7L668.3 285.8"/>
<path class="ar" d="M655.53 253.64L653.08 249.76L654.76 249.12Z"/>
<text transform="translate(671.7,276.7) rotate(70)" text-anchor="middle" font-size="9.6" textLength="17.5" lengthAdjust="spacingAndGlyphs" dy="0.36em">ø 315</text>
<path class="kk" d="M727.2 222.5L727.2 227.2"/>
<path class="kk" d="M727.2 230.2L727.2 235"/>
<text transform="translate(720.5,220) rotate(-90)" text-anchor="middle" font-size="9.6" textLength="6.5" lengthAdjust="spacingAndGlyphs" dy="0.36em">10</text>
<text transform="translate(575,279.9) rotate(0)" text-anchor="middle" font-size="9.6" textLength="97" lengthAdjust="spacingAndGlyphs" dy="0.36em">max. Drehdurchmesser 450mm</text>
<path class="t" d="M526.5 285.4L626.4 285.4L638.8 269.7"/>
<path class="t2" d="M673.12 211.02L673.18 207.42"/>
<path class="t2" d="M673.12 211.02L675.66 208.48"/>
<path class="t2" d="M617.88 211.02L615.34 208.48"/>
<path class="t2" d="M617.88 211.02L617.82 207.42"/>
<path class="t2" d="M687.71 210.61L687.27 207.04"/>
<path class="t2" d="M687.71 210.61L689.88 207.74"/>
<path class="t2" d="M603.29 210.61L601.12 207.74"/>
<path class="t2" d="M603.29 210.61L603.73 207.04"/>
</svg>
</body></html>
